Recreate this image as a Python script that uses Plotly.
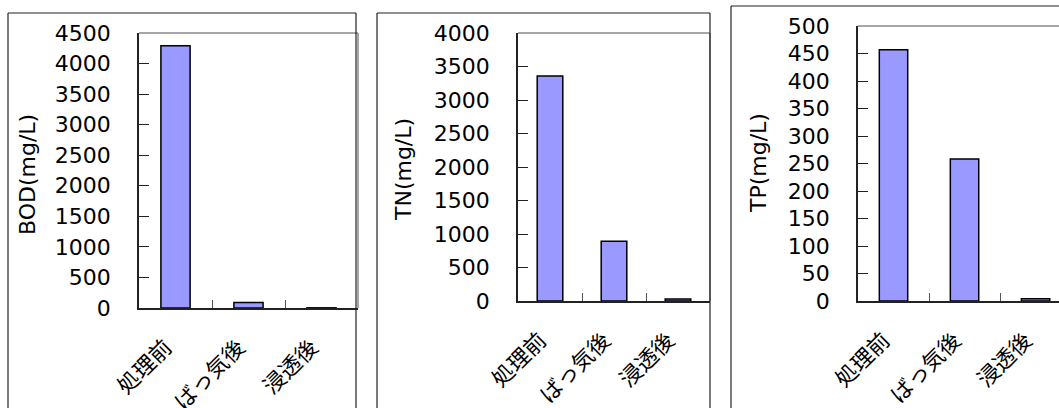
import plotly.graph_objects as go

categories = ["処理前", "ばっ気後", "浸透後"]
bod_values = [4290, 90, 3]
tn_values = [3360, 890, 30]
tp_values = [457, 258, 4]

bod_ticks = list(range(0, 4501, 500))
tn_ticks = list(range(0, 4001, 500))
tp_ticks = list(range(0, 501, 50))

W, H = 1059, 408
FONT_NUM = "DejaVu Sans, Noto Sans CJK JP, sans-serif"
FONT_JP = "Noto Sans CJK JP, sans-serif"

def px_x(x):
    return x / W

def px_y(y):
    return 1 - y / H

panels = [
    dict(vals=bod_values, ticks=bod_ticks, ymax=4500, xd=(139, 358), yd=(308, 33),
         title="BOD(mg/L)", tx=27, ty=175, frame=(8, 356, 13), xr=[-0.5, 2.5], right=True),
    dict(vals=tn_values, ticks=tn_ticks, ymax=4000, xd=(518, 710), yd=(301, 33),
         title="TN(mg/L)", tx=403, ty=170, frame=(377, 710, 13), xr=[-0.5, 2.5], right=True),
    dict(vals=tp_values, ticks=tp_ticks, ymax=500, xd=(858, 1059), yd=(301, 26),
         title="TP(mg/L)", tx=758, ty=163, frame=(731, None, 6), xr=[-0.5, 2.33], right=False),
]

fig = go.Figure()
shapes = []
annotations = []
for i, p in enumerate(panels):
    n = "" if i == 0 else str(i + 1)
    fig.add_trace(go.Bar(
        x=categories, y=p["vals"], width=0.4,
        marker=dict(color="#9999FF", line=dict(color="black", width=1.5)),
        xaxis="x" + n, yaxis="y" + n, showlegend=False,
    ))
    fig.update_layout(**{
        "xaxis" + n: dict(
            domain=[px_x(p["xd"][0]), px_x(p["xd"][1])], anchor="y" + n,
            range=p["xr"], type="category", tickson="boundaries", automargin=False,
            ticks="inside", ticklen=8, tickcolor="#555", tickangle=-45,
            ticklabelstandoff=16, ticklabelshift=-10,
            showline=True, linecolor="#222", linewidth=1.5, showgrid=False,
            tickfont=dict(family=FONT_JP, size=22, color="black"), zeroline=False,
        ),
        "yaxis" + n: dict(
            domain=[px_y(p["yd"][0]), px_y(p["yd"][1])], anchor="x" + n,
            range=[0, p["ymax"]], tickvals=p["ticks"], automargin=False,
            ticks="inside", ticklen=10, tickcolor="#222",
            showline=True, linecolor="#222", linewidth=1.5, showgrid=False,
            zeroline=False, ticklabelstandoff=22,
            tickfont=dict(family=FONT_NUM, size=22, color="black"),
        ),
    })
    xd = "x" + n + " domain"
    yd = "y" + n + " domain"
    shapes.append(dict(type="line", xref=xd, yref=yd, x0=0, x1=1, y0=1, y1=1,
                       line=dict(color="#888", width=1.5)))
    if p["right"]:
        shapes.append(dict(type="line", xref=xd, yref=yd, x0=1, x1=1, y0=0, y1=1,
                           line=dict(color="#888", width=1.5)))
    fl, fr, ft = p["frame"]
    shapes.append(dict(type="line", xref="paper", yref="paper", x0=px_x(fl), x1=px_x(fl),
                       y0=px_y(ft), y1=-0.1, line=dict(color="#222", width=1.2)))
    shapes.append(dict(type="line", xref="paper", yref="paper", x0=px_x(fl),
                       x1=px_x(fr) if fr else 1.1, y0=px_y(ft), y1=px_y(ft),
                       line=dict(color="#222", width=1.2)))
    if fr:
        shapes.append(dict(type="line", xref="paper", yref="paper", x0=px_x(fr), x1=px_x(fr),
                           y0=px_y(ft), y1=-0.1, line=dict(color="#222", width=1.2)))
    annotations.append(dict(text=p["title"], xref="paper", yref="paper",
                            x=px_x(p["tx"]), y=px_y(p["ty"]), textangle=-90,
                            showarrow=False, xanchor="center", yanchor="middle",
                            font=dict(family=FONT_NUM, size=22, color="black")))

fig.update_layout(
    width=W, height=H, margin=dict(l=0, r=0, t=0, b=0, autoexpand=False),
    paper_bgcolor="white", plot_bgcolor="white",
    shapes=shapes, annotations=annotations, bargap=0.6,
)

fig.write_html("out.html")
